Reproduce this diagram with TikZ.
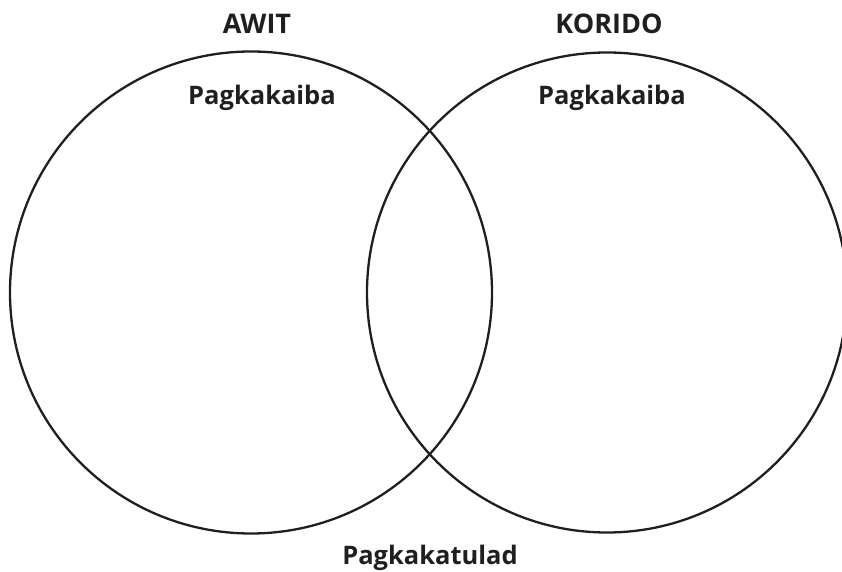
\documentclass[tikz,border=0pt]{standalone}
\usepackage{fontspec}
\setmainfont{Open Sans}
\begin{document}
\begin{tikzpicture}[x=1pt,y=1pt,
  ring/.style={draw=black!88, line width=2.3pt},
  lbl/.style={font=\bfseries\fontsize{25.5}{30}\selectfont, text=black!88, anchor=base, inner sep=0pt},
  ttl/.style={font=\bfseries\fontsize{27}{32}\selectfont, text=black!88, anchor=base, inner sep=0pt}]
\useasboundingbox (0,0) rectangle (842,572);
\begin{scope}
\clip (0,0) rectangle (842,572);
\draw[ring] (251,279.5) circle (241);
\draw[ring] (607,279.5) circle (240);
\end{scope}
\node[ttl] (awit) at (257,538) {AWIT};
\node[ttl] (korido) at (609,538) {KORIDO};
\node[lbl] (pa) at (262,467) {Pagkakaiba};
\node[lbl] (pb) at (612,467) {Pagkakaiba};
\node[lbl] (pc) at (430,7) {Pagkakatulad};
\end{tikzpicture}
\end{document}
